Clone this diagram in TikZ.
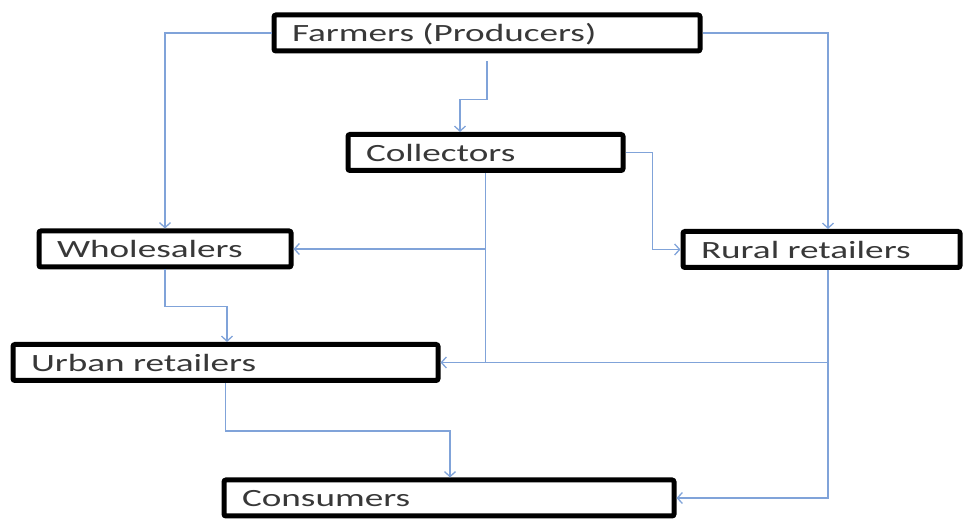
\documentclass[tikz,border=0pt]{standalone}
\usepackage{fontspec}
\setmainfont{Carlito}[FakeStretch=1.5, WordSpace=0.55]
\usetikzlibrary{arrows.meta}
\definecolor{flowblue}{rgb}{0.5,0.64,0.85}
\definecolor{txtgrey}{rgb}{0.22,0.22,0.22}

\begin{document}
\begin{tikzpicture}[x=1pt, y=1pt,
    box/.style={draw=black, line width=5pt, rounded corners=2pt, fill=white,
        inner xsep=18pt, inner ysep=0pt, minimum height=36pt, align=left,
        text height=22pt, text depth=4pt,
        text=txtgrey, font=\fontsize{24.8}{26}\selectfont},
    link/.style={color=flowblue, line width=1.3pt},
    flow/.style={link, -{Straight Barb[length=5pt, width=11pt]}}]
    \useasboundingbox (0,0) rectangle (964,519);
    \node[box, text width=390pt] (farmers) at (487,486) {Farmers (Producers)};
    \node[box, text width=239pt] (collectors) at (485.5,366.5) {Collectors};
    \node[box, text width=216pt] (wholesalers) at (165,270) {Wholesalers};
    \node[box, text width=241pt] (rural) at (821.5,269.5) {Rural retailers};
    \node[box, text width=389pt] (urban) at (225.5,156.5) {Urban retailers};
    \node[box, text width=414pt] (consumers) at (449,21) {Consumers};
    \draw[flow] (farmers.west) -| (wholesalers.north);
    \draw[flow] (farmers.east) -| ([xshift=6.5pt]rural.north);
    \draw[flow] ([yshift=-8pt]farmers.south) -- ++(0,-38) -| ([xshift=-25.5pt]collectors.north);
    \draw[flow] (collectors.east) -- ++(27,0) |- (rural.west);
    \draw[link] (collectors.south) -- (collectors.south |- urban.east);
    \draw[flow] (collectors.south |- wholesalers.east) -- (wholesalers.east);
    \draw[flow] ([xshift=6.5pt]rural.south) |- (urban.east);
    \draw[flow] ([xshift=6.5pt]rural.south) |- (consumers.east);
    \draw[flow] (wholesalers.south) -- ++(0,-37) -| ([xshift=1.5pt]urban.north);
    \draw[flow] (urban.south) -- ++(0,-48) -| ([xshift=1pt]consumers.north);
\end{tikzpicture}
\end{document}
